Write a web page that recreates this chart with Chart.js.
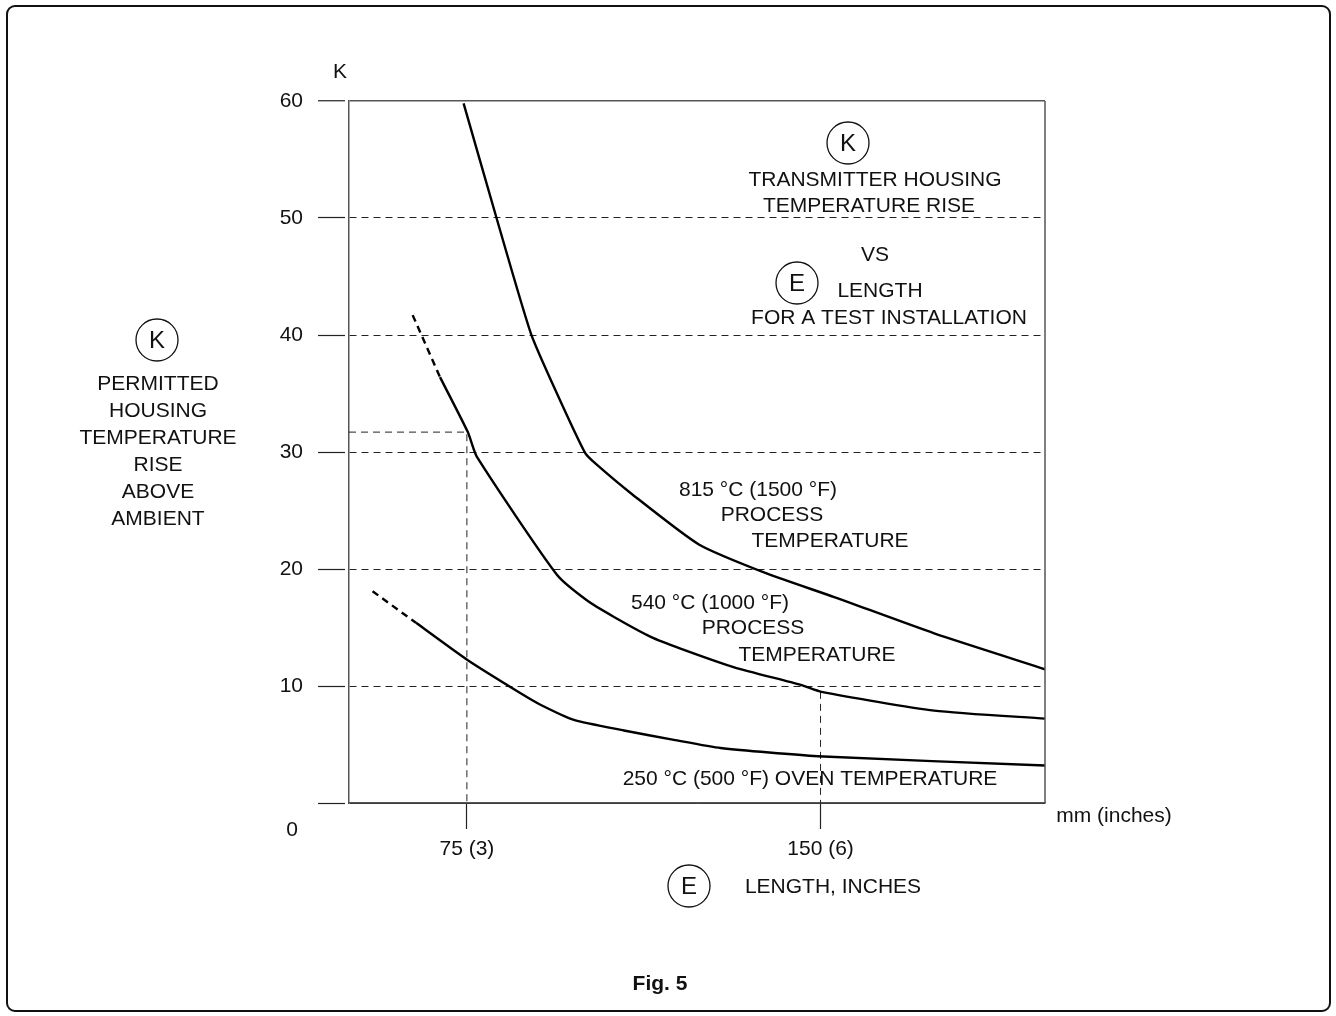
<!DOCTYPE html>
<html>
<head>
<meta charset="utf-8">
<title>Fig. 5</title>
<script src="https://cdn.jsdelivr.net/npm/chart.js@4.4.0/dist/chart.umd.min.js"></script>
<style>
  body { margin: 0; background: #fff; }
  #wrap { position: relative; width: 1336px; height: 1016px; }
  #frame { position: absolute; left: 6px; top: 5px; width: 1321px; height: 1003px;
           border: 2px solid #111; border-radius: 9px; pointer-events: none; }
  canvas { position: absolute; left: 0; top: 0; }
</style>
</head>
<body>
<div id="wrap">
  <canvas id="fig5" width="1336" height="1016"></canvas>
  <div id="frame"></div>
</div>
<script>
// curves, [length mm, K]
const curve815 = [[74.3,59.8],[81.5,49.7],[88.6,40.1],[94.1,35.0],[100.1,29.9],[102.3,29.0],[109.7,26.5],[124.2,22.1],[138.7,19.6],[152.9,17.6],[174.1,14.5],[197.9,11.4]];
const curve540Dash = [[63.5,41.7],[69.3,36.4]];
const curve540 = [[69.3,36.4],[75.2,31.7],[77.1,29.6],[94.1,19.5],[100.5,17.3],[106.2,15.9],[114.0,14.2],[120.3,13.2],[131.7,11.6],[145.8,10.1],[150.2,9.5],[174.1,7.9],[197.9,7.2]];
const curve250Dash = [[55.0,18.1],[64.2,15.4]];
const curve250 = [[64.2,15.4],[75.2,12.2],[86.3,9.4],[90.6,8.4],[97.7,7.1],[108.3,6.2],[118.9,5.4],[128.8,4.7],[149.4,4.0],[197.9,3.2]];

// dashed reading lines
const readAt75 = [[50,31.7],[75,31.7],[75,0]];
const readAt150 = [[150,9.5],[150,0]];

const xTickValues = [75, 150];
const xTickLabels = ['75 (3)', '150 (6)'];
const yTickValues = [0, 10, 20, 30, 40, 50, 60];

const FONT = '"Liberation Sans", Arial, Helvetica, sans-serif';
const SIZE = 21;
Chart.defaults.font.family = FONT;
Chart.defaults.color = '#111';

const toXY = (pts) => pts.map(([x, y]) => ({ x: x, y: y }));

function curve(pts, dashed) {
  return {
    data: toXY(pts),
    showLine: true,
    borderColor: '#000',
    borderWidth: 2.4,
    borderDash: dashed ? [7, 5] : [],
    pointRadius: 0,
    tension: dashed ? 0 : 0.2
  };
}

function readLine(pts) {
  return {
    data: toXY(pts),
    showLine: true,
    borderColor: '#222',
    borderWidth: 1,
    borderDash: [7, 5],
    pointRadius: 0,
    tension: 0
  };
}

function circled(ctx, letter, x, y) {
  ctx.save();
  ctx.beginPath();
  ctx.lineWidth = 1.3;
  ctx.strokeStyle = '#111';
  ctx.arc(x, y, 21, 0, Math.PI * 2);
  ctx.stroke();
  ctx.font = '24px ' + FONT;
  ctx.fillText(letter, x, y + 1);
  ctx.restore();
}

// all the free text of the figure
const textPlugin = {
  id: 'figText',
  afterDraw(chart) {
    const ctx = chart.ctx;
    const area = chart.chartArea;
    const ys = chart.scales.y;
    ctx.save();

    // right edge of the plot box
    ctx.strokeStyle = '#555';
    ctx.lineWidth = 1.5;
    ctx.beginPath();
    ctx.moveTo(area.right, area.top);
    ctx.lineTo(area.right, area.bottom);
    ctx.stroke();

    ctx.fillStyle = '#111';
    ctx.textAlign = 'center';
    ctx.textBaseline = 'middle';
    ctx.font = SIZE + 'px ' + FONT;

    ctx.fillText('K', 340, 72);
    ctx.fillText('0', 292, ys.getPixelForValue(0) + 27);

    // left block
    circled(ctx, 'K', 157, 340);
    ['PERMITTED', 'HOUSING', 'TEMPERATURE', 'RISE', 'ABOVE', 'AMBIENT'].forEach((s, i) => {
      ctx.fillText(s, 158, 384 + i * 27);
    });

    // title block
    circled(ctx, 'K', 848, 143);
    ctx.fillText('TRANSMITTER HOUSING', 875, 180);
    ctx.fillText('TEMPERATURE RISE', 869, 206);
    ctx.fillText('VS', 875, 255);
    circled(ctx, 'E', 797, 283);
    ctx.fillText('LENGTH', 880, 291);
    ctx.fillText('FOR A TEST INSTALLATION', 889, 318);

    // curve labels
    ctx.fillText('815 °C (1500 °F)', 758, 490);
    ctx.fillText('PROCESS', 772, 515);
    ctx.fillText('TEMPERATURE', 830, 541);
    ctx.fillText('540 °C (1000 °F)', 710, 603);
    ctx.fillText('PROCESS', 753, 628);
    ctx.fillText('TEMPERATURE', 817, 655);
    ctx.fillText('250 °C (500 °F) OVEN TEMPERATURE', 810, 779);

    // x axis captions
    ctx.fillText('mm (inches)', 1114, 816);
    circled(ctx, 'E', 689, 886);
    ctx.fillText('LENGTH, INCHES', 833, 887);

    ctx.font = 'bold ' + SIZE + 'px ' + FONT;
    ctx.fillText('Fig. 5', 660, 984);
    ctx.restore();
  }
};

const chart = new Chart(document.getElementById('fig5'), {
  type: 'scatter',
  data: {
    datasets: [
      curve(curve815, false),
      curve(curve540Dash, true),
      curve(curve540, false),
      curve(curve250Dash, true),
      curve(curve250, false),
      readLine(readAt75),
      readLine(readAt150)
    ]
  },
  options: {
    responsive: false,
    animation: false,
    devicePixelRatio: 1,
    layout: { padding: { left: 249, top: 101, right: 291, bottom: 153 } },
    plugins: { legend: { display: false }, tooltip: { enabled: false } },
    scales: {
      x: {
        type: 'linear',
        min: 50,
        max: 197.6,
        afterBuildTicks: (axis) => { axis.ticks = xTickValues.map((v) => ({ value: v })); },
        afterFit: (axis) => { axis.height = 60; },
        ticks: {
          autoSkip: false,
          maxRotation: 0,
          padding: 8,
          font: { size: SIZE },
          callback: (v) => xTickLabels[xTickValues.indexOf(v)]
        },
        grid: {
          drawOnChartArea: false,
          tickLength: 26,
          tickColor: '#222',
          tickWidth: 1.2
        },
        border: { color: '#555', width: 1.5 }
      },
      y: {
        type: 'linear',
        min: 0,
        max: 60,
        afterBuildTicks: (axis) => { axis.ticks = yTickValues.map((v) => ({ value: v })); },
        afterFit: (axis) => { axis.width = 100; },
        ticks: {
          padding: 15,
          font: { size: SIZE },
          callback: (v) => (v === 0 ? '' : String(v))
        },
        grid: {
          color: (c) => (c.tick && c.tick.value === 60 ? '#555' : '#222'),
          lineWidth: (c) => (c.tick && c.tick.value === 60 ? 1.5 : 1),
          tickLength: 31,
          tickColor: '#222',
          tickWidth: 1.2,
          tickBorderDash: [27, 10]
        },
        border: {
          color: '#555',
          width: 1.5,
          dash: (c) => (c.tick && (c.tick.value === 0 || c.tick.value === 60) ? [] : [7, 5])
        }
      }
    }
  },
  plugins: [textPlugin]
});
</script>
</body>
</html>
